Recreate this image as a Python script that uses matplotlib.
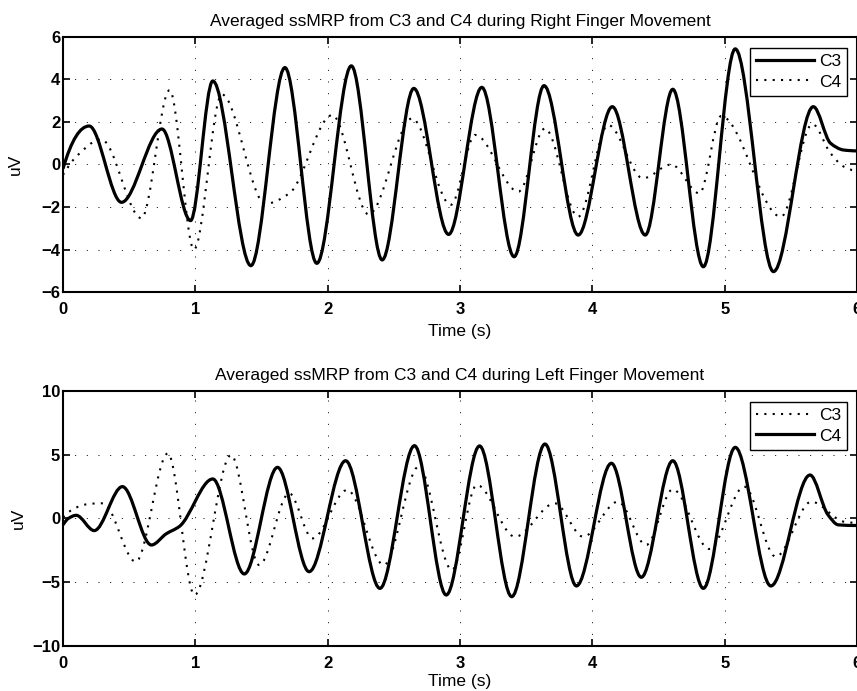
import numpy as np
import matplotlib
matplotlib.use("Agg")
import matplotlib.pyplot as plt
from matplotlib.path import Path
from matplotlib.patches import PathPatch
from matplotlib.lines import Line2D

plt.rcParams['font.family'] = ['Liberation Sans', 'DejaVu Sans']

# ---- Right finger movement: turning points (time in s, amplitude in uV) ----
right_c3_t = [0.0, 0.198, 0.442, 0.748, 0.964, 1.132, 1.42, 1.677, 1.918, 2.179,
              2.412, 2.651, 2.914, 3.165, 3.409, 3.635, 3.893, 4.151, 4.40, 4.608,
              4.839, 5.08, 5.369, 5.67, 5.80, 5.90, 6.0]
right_c3_v = [-0.2, 1.81, -1.78, 1.67, -2.64, 3.93, -4.76, 4.56, -4.65, 4.64,
              -4.49, 3.58, -3.29, 3.63, -4.34, 3.71, -3.32, 2.72, -3.32, 3.54,
              -4.81, 5.44, -5.04, 2.72, 1.0, 0.68, 0.64]

right_c4_t = [0.0, 0.10, 0.29, 0.593, 0.806, 0.99, 1.20, 1.53, 1.71, 2.035,
              2.31, 2.638, 2.93, 3.115, 3.441, 3.642, 3.893, 4.119, 4.383, 4.596,
              4.81, 4.973, 5.425, 5.663, 5.80, 5.90, 6.0]
right_c4_v = [-0.49, 0.37, 1.18, -2.53, 3.5, -4.0, 3.3, -1.85, -1.36, 2.33,
              -2.35, 2.17, -1.9, 1.39, -1.28, 1.7, -2.46, 1.86, -0.65, 0.0,
              -1.36, 2.28, -2.46, 1.9, 0.53, -0.1, -0.3]

# ---- Left finger movement ----
left_c3_t = [0.0, 0.303, 0.55, 0.793, 0.994, 1.27, 1.483, 1.709, 1.885, 2.148,
             2.425, 2.688, 2.939, 3.127, 3.416, 3.717, 3.931, 4.194, 4.407, 4.608,
             4.884, 5.148, 5.386, 5.655, 5.90, 6.0]
left_c3_v = [0.1, 1.19, -3.39, 5.11, -6.0, 4.98, -3.65, 1.98, -1.56, 2.24,
             -3.65, 4.07, -4.04, 2.63, -1.43, 1.19, -1.43, 1.32, -2.08, 2.29,
             -2.39, 2.5, -3.0, 1.32, -0.25, -0.35]

left_c4_t = [0.0, 0.04, 0.10, 0.236, 0.449, 0.668, 0.78, 0.88, 1.132, 1.37,
             1.621, 1.86, 2.136, 2.395, 2.656, 2.896, 3.148, 3.391, 3.642, 3.88,
             4.144, 4.37, 4.608, 4.839, 5.08, 5.349, 5.645, 5.78, 5.86, 6.0]
left_c4_v = [-0.5, 0.0, 0.25, -0.95, 2.5, -2.08, -1.2, -0.62, 3.1, -4.35,
             4.01, -4.17, 4.53, -5.48, 5.71, -6.0, 5.69, -6.13, 5.84, -5.29,
             4.33, -4.61, 4.53, -5.48, 5.58, -5.29, 3.41, 0.3, -0.5, -0.55]

time_ticks = [0, 1, 2, 3, 4, 5, 6]
right_yticks = [-6, -4, -2, 0, 2, 4, 6]
left_yticks = [-10, -5, 0, 5, 10]


def smooth_path(t, v):
    """Monotone cubic (Fritsch-Carlson) curve through the knots as a Bezier path."""
    t = np.asarray(t, float)
    v = np.asarray(v, float)
    h = np.diff(t)
    d = np.diff(v) / h
    n = len(t)
    m = np.zeros(n)
    for k in range(1, n - 1):
        if d[k - 1] * d[k] > 0:
            w1 = 2 * h[k] + h[k - 1]
            w2 = h[k] + 2 * h[k - 1]
            m[k] = (w1 + w2) / (w1 / d[k - 1] + w2 / d[k])

    def end_slope(h0, h1, d0, d1):
        s = ((2 * h0 + h1) * d0 - h0 * d1) / (h0 + h1)
        if np.sign(s) != np.sign(d0):
            return 0.0
        if np.sign(d0) != np.sign(d1) and abs(s) > abs(3 * d0):
            return 3 * d0
        return s

    m[0] = end_slope(h[0], h[1], d[0], d[1])
    m[-1] = end_slope(h[-1], h[-2], d[-1], d[-2])
    verts = [(t[0], v[0])]
    codes = [Path.MOVETO]
    for k in range(n - 1):
        verts += [(t[k] + h[k] / 3, v[k] + m[k] * h[k] / 3),
                  (t[k + 1] - h[k] / 3, v[k + 1] - m[k + 1] * h[k] / 3),
                  (t[k + 1], v[k + 1])]
        codes += [Path.CURVE4] * 3
    return Path(verts, codes)


SOLID = dict(linestyle='-', linewidth=2.3, color='black')
DOTTED = dict(linestyle=(0, (1, 3)), linewidth=1.5, color='black')


def draw_series(ax, t, v, style):
    patch = PathPatch(smooth_path(t, v), fill=False, edgecolor=style['color'],
                      linewidth=style['linewidth'], linestyle=style['linestyle'],
                      capstyle='butt', joinstyle='round')
    ax.add_patch(patch)
    return Line2D([], [], color=style['color'], linewidth=style['linewidth'],
                  linestyle=style['linestyle'])


def style_axes(ax, yticks, title, ylabel_x, xlabel_pad):
    ax.set_xlim(time_ticks[0], time_ticks[-1])
    ax.set_ylim(yticks[0], yticks[-1])
    ax.set_xticks(time_ticks)
    ax.set_yticks(yticks)
    ax.set_title(title, fontsize=12.5, pad=8)
    ax.set_xlabel('Time (s)', fontsize=12.5, labelpad=xlabel_pad)
    ax.set_ylabel('uV', fontsize=12.5)
    ax.yaxis.set_label_coords(ylabel_x, 0.5)
    ax.tick_params(direction='in', length=5, width=1.2, top=True, right=True,
                   labelsize=12)
    ax.tick_params(axis='x', pad=7.5)
    ax.tick_params(axis='y', pad=2)
    for lab in ax.get_xticklabels() + ax.get_yticklabels():
        lab.set_fontweight('bold')
    for sp in ax.spines.values():
        sp.set_linewidth(1.5)
    ax.grid(True, color='black', linestyle=(0, (1, 11)), linewidth=0.7)


def add_legend(ax, handles):
    leg = ax.legend(handles, ['C3', 'C4'], loc='upper right',
                    bbox_to_anchor=(0.9875, 0.957), fontsize=12.5,
                    handlelength=3.3, fancybox=False, framealpha=1,
                    edgecolor='black', borderaxespad=0, borderpad=0.35,
                    labelspacing=0.3, handletextpad=0.3)
    leg.get_frame().set_linewidth(1.0)
    return leg


fig = plt.figure(figsize=(8.57, 6.91), dpi=100)
ax1 = fig.add_axes([0.0735, 0.5774, 0.9265, 0.3691])
ax2 = fig.add_axes([0.0735, 0.0651, 0.9265, 0.3691])

h_c3 = draw_series(ax1, right_c3_t, right_c3_v, SOLID)
h_c4 = draw_series(ax1, right_c4_t, right_c4_v, DOTTED)
style_axes(ax1, right_yticks,
           'Averaged ssMRP from C3 and C4 during Right Finger Movement',
           -0.050, 5)
add_legend(ax1, [h_c3, h_c4])

h_l3 = draw_series(ax2, left_c3_t, left_c3_v, DOTTED)
h_l4 = draw_series(ax2, left_c4_t, left_c4_v, SOLID)
style_axes(ax2, left_yticks,
           'Averaged ssMRP from C3 and C4 during Left Finger Movement',
           -0.047, 1.5)
add_legend(ax2, [h_l3, h_l4])

fig.savefig('out.png', dpi=100)
